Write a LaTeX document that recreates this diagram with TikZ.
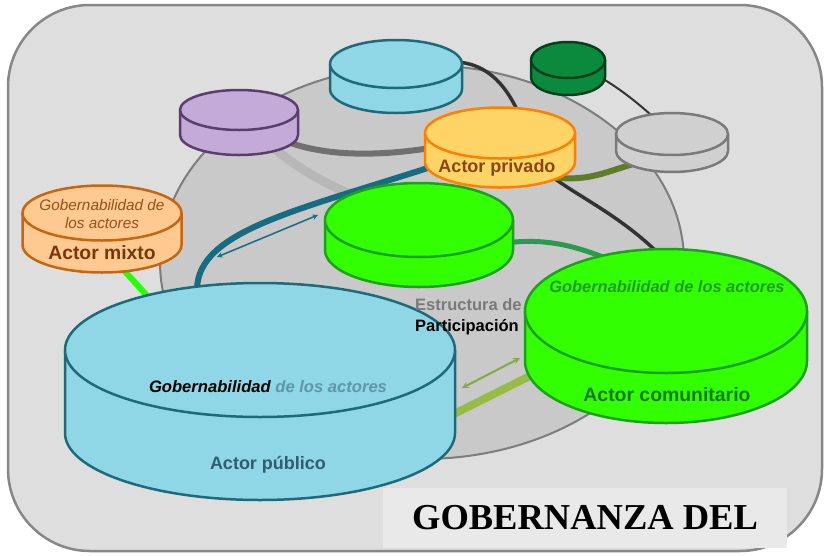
\documentclass[tikz,border=0pt]{standalone}
\usepackage{fontspec}
\setmainfont{Liberation Sans}
\newfontfamily\titulofont{Liberation Serif}
\usetikzlibrary{calc}

\definecolor{fondo}{RGB}{222,222,222}
\definecolor{marco}{RGB}{135,135,135}
\definecolor{esfera}{RGB}{201,201,201}
\definecolor{esferaborde}{RGB}{125,125,125}
\definecolor{celeste}{RGB}{143,214,230}
\definecolor{celesteborde}{RGB}{29,106,122}
\definecolor{verdevivo}{RGB}{50,255,0}
\definecolor{verdeborde}{RGB}{30,160,30}
\definecolor{amarillo}{RGB}{255,212,102}
\definecolor{naranja}{RGB}{255,127,0}
\definecolor{durazno}{RGB}{255,201,146}
\definecolor{duraznoborde}{RGB}{200,101,15}
\definecolor{grisclaro}{RGB}{208,208,208}
\definecolor{grisborde}{RGB}{122,122,122}
\definecolor{verdeosc}{RGB}{11,138,61}
\definecolor{verdeoscborde}{RGB}{6,63,28}
\definecolor{lila}{RGB}{196,170,216}
\definecolor{lilaborde}{RGB}{90,62,110}
\definecolor{petroleo}{RGB}{22,108,128}
\definecolor{oliva}{RGB}{94,124,42}
\definecolor{olivaclaro}{RGB}{150,188,72}
\definecolor{marino}{RGB}{42,154,80}
\definecolor{lineagris}{RGB}{183,183,183}
\definecolor{lineaosc}{RGB}{112,112,112}
\definecolor{cafe}{RGB}{139,69,19}
\definecolor{cafeclaro}{RGB}{150,80,30}
\definecolor{cafeosc}{RGB}{120,55,10}
\definecolor{azulgris}{RGB}{95,151,168}
\definecolor{azulosc}{RGB}{45,95,110}
\definecolor{verdetexto}{RGB}{35,155,35}
\definecolor{verdenombre}{RGB}{25,120,25}
\definecolor{cajatitulo}{RGB}{233,233,233}

% cilindro: nombre (centro de la tapa), radio x, radio y, alto, relleno, borde
\newcommand{\cilindro}[6]{%
	\filldraw[fill=#5, draw=#6, line width=2.5pt] ($(#1)+(-#2,0)$) -- ++(0,#4)
		arc[start angle=180, end angle=360, x radius=#2pt, y radius=#3pt] -- ++(0,-#4) -- cycle;
	\filldraw[fill=#5, draw=#6, line width=2.5pt] (#1) ellipse[x radius=#2pt, y radius=#3pt];
}

\begin{document}
\begin{tikzpicture}[x=1pt, y=-1pt, line join=round, line cap=round, >=stealth,
	etiq/.style={inner sep=0pt, align=center},
	enlace/.style={line width=#1}]
	\useasboundingbox (0,0) rectangle (825,555);
	\draw[fill=fondo, draw=marco, line width=2.5pt, rounded corners=82pt] (8,5) rectangle (822,551);
	\draw[fill=esfera, draw=esferaborde, line width=2pt] (422,262) ellipse[x radius=262pt, y radius=197pt];
	% actores
	\coordinate (publico) at (260,350);
	\coordinate (comunitario) at (666,311);
	\coordinate (centro) at (419,220);
	\coordinate (privado) at (500,133);
	\coordinate (gris) at (672,134);
	\coordinate (verde) at (568,60);
	\coordinate (celeste) at (396,64);
	\coordinate (morado) at (239,110);
	\coordinate (mixto) at (102,213);
	% extremos libres
	\coordinate (fa1) at (217,257); \coordinate (fa2) at (318,215);
	\coordinate (fb1) at (462,388); \coordinate (fb2) at (520,358);
	% enlaces
	\draw[enlace=9pt, color=lineagris] (morado) .. controls (280,165) and (330,190) .. (centro);
	\draw[enlace=6pt, color=lineaosc] (morado) .. controls (290,168) and (400,160) .. (privado);
	\draw[enlace=3.5pt, color=black!80] (celeste) -- (455,62) .. controls (490,63) and (508,90) .. (518,112)
		-- (550,175) .. controls (575,195) and (620,215) .. (660,255) -- (comunitario);
	\draw[enlace=2pt, color=black!80] (verde) .. controls (620,85) and (640,105) .. (gris);
	\draw[enlace=6pt, color=oliva] (privado) -- (550,177) .. controls (595,183) and (610,168) .. (650,160) -- (gris);
	\draw[enlace=6pt, color=petroleo] (privado) -- (440,164) .. controls (300,210) and (197,230) .. (197,290) -- (publico);
	\draw[enlace=1.5pt, color=petroleo, <->] (fa1) -- (fa2);
	\draw[enlace=5pt, color=marino] (centro) -- (505,243) .. controls (545,238) and (575,245) .. (615,262) -- (comunitario);
	\draw[enlace=6pt, color=green!80!lime] (mixto) -- (110,255) -- (160,310) -- (publico);
	\draw[enlace=8pt, color=olivaclaro] (publico) -- (440,421) -- (540,371) -- (comunitario);
	\draw[enlace=2pt, color=olivaclaro!90!black, <->] (fb1) -- (fb2);
	% cilindros
	\cilindro{celeste}{66}{24}{25}{celeste}{celesteborde}
	\cilindro{verde}{37}{18}{17}{verdeosc}{verdeoscborde}
	\cilindro{morado}{59}{20}{25}{lila}{lilaborde}
	\cilindro{gris}{56}{21}{17}{grisclaro}{grisborde}
	\cilindro{privado}{75}{25.5}{29}{amarillo}{naranja}
	\cilindro{centro}{94}{37}{30}{verdevivo}{verdeborde}
	\cilindro{mixto}{79.5}{27.5}{32}{durazno}{duraznoborde}
	\cilindro{publico}{195}{67}{83}{celeste}{celesteborde}
	\node[etiq, anchor=west, font=\bfseries\fontsize{16.5}{19}\selectfont, text=gray!95!black] (estr) at (415,305) {Estructura de};
	\node[etiq, anchor=west, font=\bfseries\fontsize{16.5}{19}\selectfont] (part) at (415,327) {Participación};
	\cilindro{comunitario}{141}{62}{50}{verdevivo}{verdeborde}
	% textos
	\node[etiq, font=\bfseries\itshape\fontsize{16.6}{19}\selectfont] (pubgob) at ($(publico)+(8,37)$) {Gobernabilidad \textcolor{azulgris}{de los actores}};
	\node[etiq, font=\bfseries\fontsize{18}{21}\selectfont, text=azulosc] (pubnom) at ($(publico)+(8,115)$) {Actor público};
	\node[etiq, font=\bfseries\itshape\fontsize{16.4}{19}\selectfont, text=verdetexto] (comgob) at ($(comunitario)+(1,-24)$) {Gobernabilidad de los actores};
	\node[etiq, font=\bfseries\fontsize{19.4}{22}\selectfont, text=verdenombre] (comnom) at ($(comunitario)+(1,84)$) {Actor comunitario};
	\node[etiq, font=\bfseries\fontsize{18}{21}\selectfont, text=cafe] (privnom) at ($(privado)+(-3,35)$) {Actor privado};
	\node[etiq, font=\itshape\fontsize{15.3}{18}\selectfont, text=cafeclaro] (mixgob) at ($(mixto)+(0,1)$) {Gobernabilidad de\\los actores};
	\node[etiq, font=\bfseries\fontsize{19.3}{22}\selectfont, text=cafeosc] (mixnom) at ($(mixto)+(0,40)$) {Actor mixto};
	% titulo
	\fill[cajatitulo] (383,488) rectangle (787,548);
	\node[etiq, font=\titulofont\bfseries\fontsize{36.5}{40}\selectfont] (titulo) at (585,518) {GOBERNANZA DEL};
\end{tikzpicture}
\end{document}
